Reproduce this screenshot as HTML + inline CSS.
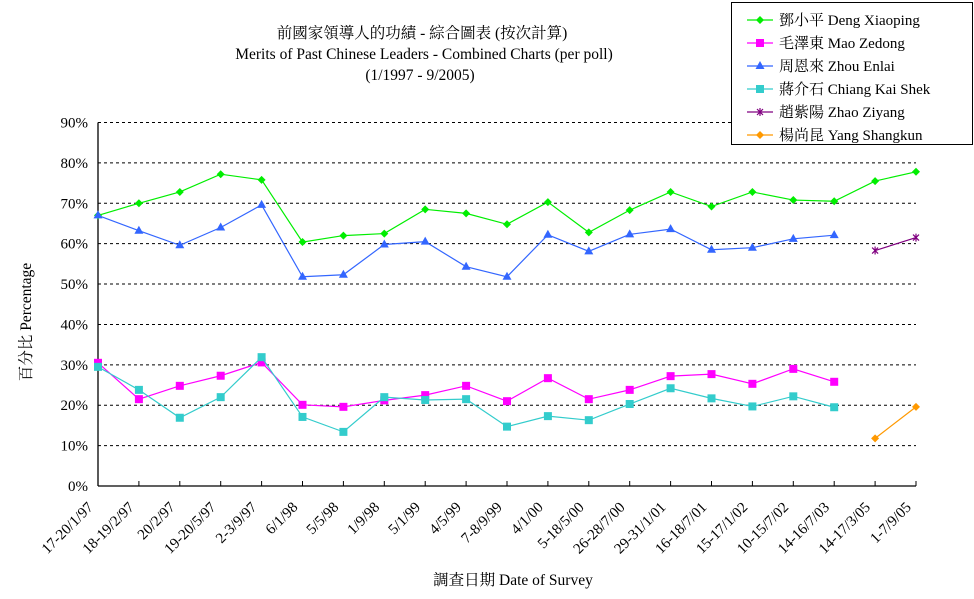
<!DOCTYPE html>
<html><head><meta charset="utf-8"><style>
body{margin:0;background:#fff;}
svg{display:block;font-family:"Liberation Serif","Noto Serif CJK SC","Noto Sans CJK TC",serif;}
</style></head><body>
<svg id="chart" width="974" height="599">
<g id="grid"></g>
<g id="axes"></g>
<g id="series"></g>
<text x="422" y="38" font-size="15.5" text-anchor="middle">前國家領導人的功績 - 綜合圖表 (按次計算)</text>
<text x="424" y="59" font-size="15.5" text-anchor="middle">Merits of Past Chinese Leaders - Combined Charts (per poll)</text>
<text x="420" y="80" font-size="15.5" text-anchor="middle">(1/1997 - 9/2005)</text>
<text transform="translate(31,322) rotate(-90)" font-size="15.5" text-anchor="middle">百分比 Percentage</text>
<text x="513" y="585" font-size="15.5" text-anchor="middle">調查日期 Date of Survey</text>
<g id="legend"></g>
</svg>
<script>
const categories=["17-20/1/97","18-19/2/97","20/2/97","19-20/5/97","2-3/9/97","6/1/98","5/5/98","1/9/98","5/1/99","4/5/99","7-8/9/99","4/1/00","5-18/5/00","26-28/7/00","29-31/1/01","16-18/7/01","15-17/1/02","10-15/7/02","14-16/7/03","14-17/3/05","1-7/9/05"];
const yTicks=[0,10,20,30,40,50,60,70,80,90];
const deng=[67,70,72.8,77.2,75.8,60.4,62,62.5,68.5,67.5,64.8,70.3,62.8,68.3,72.8,69.2,72.8,70.8,70.5,75.5,77.8];
const mao=[30.5,21.5,24.8,27.3,30.6,20.1,19.6,21.2,22.5,24.8,21,26.7,21.5,23.8,27.2,27.7,25.3,29,25.8,null,null];
const zhou=[67,63.2,59.6,64,69.6,51.8,52.3,59.8,60.5,54.3,51.8,62.2,58.1,62.3,63.6,58.5,59,61.2,62.1,null,null];
const chiang=[29.5,23.8,16.9,22,31.9,17.1,13.4,22,21.3,21.5,14.7,17.3,16.3,20.3,24.2,21.7,19.7,22.2,19.5,null,null];
const zhao=[null,null,null,null,null,null,null,null,null,null,null,null,null,null,null,null,null,null,null,58.3,61.5];
const yang=[null,null,null,null,null,null,null,null,null,null,null,null,null,null,null,null,null,null,null,11.8,19.6];
const seriesNames=["鄧小平 Deng Xiaoping","毛澤東 Mao Zedong","周恩來 Zhou Enlai","蔣介石 Chiang Kai Shek","趙紫陽 Zhao Ziyang","楊尚昆 Yang Shangkun"];
const seriesData=[deng,mao,zhou,chiang,zhao,yang];
const colors=["#00ee00","#ff00ff","#3366ff","#33cccc","#800080","#ff9900"];
const markers=["diamond","square","triangle","square","star","diamond"];
const keys=["deng","mao","zhou","chiang","zhao","yang"];

const NS="http://www.w3.org/2000/svg";
const X0=98,X1=916,Y0=486,Y1=122.5;
const xS=i=>X0+(X1-X0)*i/(categories.length-1);
const yS=v=>Y0-(Y0-Y1)*v/90;
function mk(tag,attrs,parent){const e=document.createElementNS(NS,tag);for(const k in attrs)e.setAttribute(k,attrs[k]);parent.appendChild(e);return e;}
const grid=document.getElementById('grid'),axes=document.getElementById('axes'),ser=document.getElementById('series'),leg=document.getElementById('legend');
yTicks.forEach(t=>{
  if(t>0){const l=mk('line',{x1:X0,x2:X1,y1:yS(t),y2:yS(t),stroke:'#000','stroke-dasharray':'3,3','stroke-width':1},grid);
  
  }
  const tx=mk('text',{x:X0-10,y:yS(t)+5,'font-size':15,'text-anchor':'end'},axes);
  tx.textContent=t+'%';
  
  
});
let a=mk('line',{x1:X0,x2:X0,y1:Y1,y2:Y0,stroke:'#000','stroke-width':1.3},axes);


a=mk('line',{x1:X0,x2:X1,y1:Y0,y2:Y0,stroke:'#000','stroke-width':1.3},axes);


categories.forEach((c,i)=>{
  const x=xS(i);
  if(i>0){const tk=mk('line',{x1:x,x2:x,y1:Y0,y2:Y0-5,stroke:'#000'},axes);
  
  }
  const t=mk('text',{transform:`translate(${x-4},${Y0+22}) rotate(-45)`,'font-size':15,'text-anchor':'end'},axes);
  t.textContent=c;
  
  
});
function marker(type,x,y,col,parent){
  let e;
  if(type==='diamond')e=mk('polygon',{points:`${x},${y-4} ${x+4},${y} ${x},${y+4} ${x-4},${y}`,fill:col},parent);
  else if(type==='square')e=mk('rect',{x:x-4,y:y-4,width:8,height:8,fill:col},parent);
  else if(type==='triangle')e=mk('polygon',{points:`${x},${y-5} ${x+4.5},${y+3} ${x-4.5},${y+3}`,fill:col},parent);
  else {e=mk('path',{d:`M${x-3},${y-3}L${x+3},${y+3}M${x+3},${y-3}L${x-3},${y+3}M${x},${y-4}L${x},${y+4}`,stroke:col,'stroke-width':1.2,fill:'none'},parent);}
  return e;
}
seriesData.forEach((arr,s)=>{
  const g=mk('g',{},ser);
  
  
  let d='',pen=false;
  arr.forEach((v,i)=>{if(v==null){pen=false;return;}d+=(pen?'L':'M')+xS(i)+','+yS(v);pen=true;});
  const p=mk('path',{d:d,stroke:colors[s],'stroke-width':1.2,fill:'none'},g);
  
  
  arr.forEach((v,i)=>{if(v==null)return;const m=marker(markers[s],xS(i),yS(v),colors[s],g);
    
    });
});
const lb=mk('rect',{x:731.5,y:2.5,width:241,height:142,fill:'#fff',stroke:'#000','stroke-width':1},leg);


seriesNames.forEach((n,s)=>{
  const y=20+23*s;
  const g=mk('g',{},leg);
  
  
  mk('line',{x1:747,x2:773,y1:y,y2:y,stroke:colors[s],'stroke-width':1.2},g);
  marker(markers[s],760,y,colors[s],g);
  const t=mk('text',{x:779,y:y+5,'font-size':15},g);
  t.textContent=n;
});
</script>
</body></html>
